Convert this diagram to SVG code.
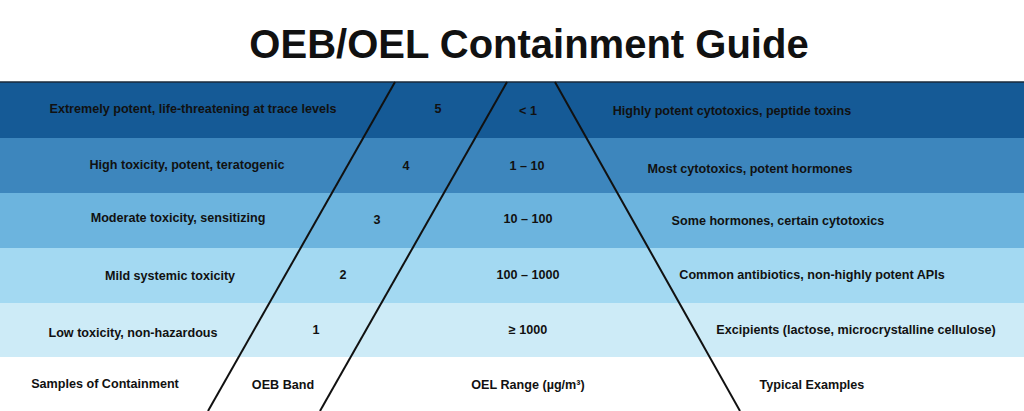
<svg xmlns="http://www.w3.org/2000/svg" width="1024" height="411" viewBox="0 0 1024 411">
<style>
text{font-family:"Liberation Sans",Arial,sans-serif;font-weight:bold;font-size:12.6px;fill:#111;text-anchor:middle;dominant-baseline:central}
.t{font-size:40px}
.c{stroke:#111;stroke-width:2;fill:none}
</style>
<rect width="1024" height="411" fill="#fff"/>
<text class="t" x="529" y="44">OEB/OEL Containment Guide</text>
<g id="band5"><rect x="0" y="82" width="1024" height="56" fill="#155a96"/>
<text x="193" y="109">Extremely potent, life-threatening at trace levels</text><text x="438" y="109">5</text><text x="528" y="111">&lt; 1</text><text x="732" y="111">Highly potent cytotoxics, peptide toxins</text></g>
<g id="band4"><rect x="0" y="138" width="1024" height="55" fill="#3d86bd"/>
<text x="187" y="165">High toxicity, potent, teratogenic</text><text x="406" y="166">4</text><text x="527" y="166">1 – 10</text><text x="750" y="169">Most cytotoxics, potent hormones</text></g>
<g id="band3"><rect x="0" y="193" width="1024" height="55" fill="#6cb4de"/>
<text x="178" y="218">Moderate toxicity, sensitizing</text><text x="377" y="220">3</text><text x="528" y="219">10 – 100</text><text x="778" y="221">Some hormones, certain cytotoxics</text></g>
<g id="band2"><rect x="0" y="248" width="1024" height="55" fill="#a3d9f2"/>
<text x="170" y="276">Mild systemic toxicity</text><text x="343" y="275">2</text><text x="528" y="275">100 – 1000</text><text x="812" y="275">Common antibiotics, non-highly potent APIs</text></g>
<g id="band1"><rect x="0" y="303" width="1024" height="54" fill="#cdebf7"/>
<text x="133" y="333">Low toxicity, non-hazardous</text><text x="316" y="330">1</text><text x="528" y="330">≥ 1000</text><text x="856" y="330">Excipients (lactose, microcrystalline cellulose)</text></g>
<g id="headers">
<text x="105" y="384">Samples of Containment</text><text x="283" y="385">OEB Band</text><text x="528" y="385">OEL Range (µg/m³)</text><text x="812" y="385">Typical Examples</text></g>
<g id="connectors">
<line x1="0" y1="82" x2="1024" y2="82" stroke="#1a2a3a" stroke-width="1.5"/>
<line class="c" x1="395" y1="82" x2="208" y2="411"/>
<line class="c" x1="507" y1="82" x2="320" y2="411"/>
<line class="c" x1="555" y1="82" x2="740" y2="411"/>
</g>
</svg>
